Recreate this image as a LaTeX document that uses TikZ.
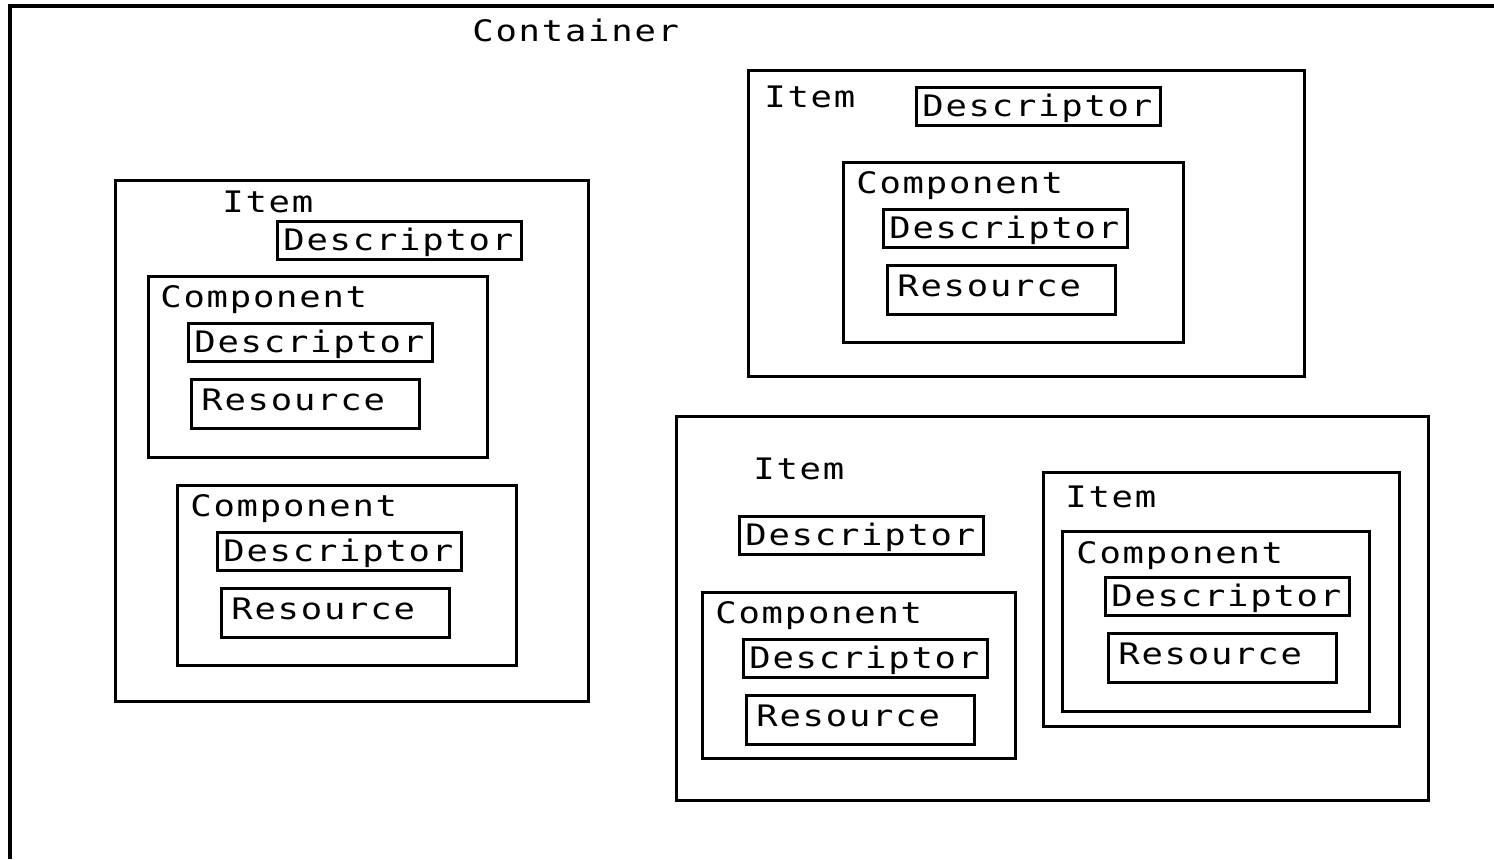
\documentclass[tikz,border=0pt]{standalone}
\usepackage{fontspec}
\usepackage{tikz}
\usetikzlibrary{positioning,fit}

\newfontfamily\pixfont{DejaVu Sans Mono}[FakeStretch=1.2, LetterSpace=6]
\newcommand{\boxfont}{\pixfont\fontsize{14.8pt}{18pt}\selectfont}

\begin{document}
\begin{tikzpicture}[x=0.5pt, y=-0.5pt,
    outline/.style={draw, rectangle, inner sep=0pt, line width=1.5pt},
    lbl/.style={font=\boxfont, anchor=base west, inner sep=0pt},
    part/.style={draw, rectangle, line width=1.4pt, font=\boxfont, anchor=north west, inner ysep=0pt, align=left},
    desc/.style={part, inner xsep=3pt, text width=116pt, text height=14.5pt, text depth=4.5pt},
    res/.style={part, inner xsep=5pt, text width=104pt, text height=15.5pt, text depth=9pt}]
    \useasboundingbox (0,0) rectangle (1494,859);

    % container, open to the right and below
    \draw[line width=2pt] (10,859) -- (10,6) -- (1494,6);
    \node[lbl] (cont) at (472,41) {Container};

    % left item
    \node[outline, fit={(115,180) (588,701)}] (itemA) {};
    \node[lbl] (itemAlbl) at (222,212) {Item};
    \node[desc] (itemAdesc) at (276,220) {Descriptor};

    \node[outline, fit={(148,276) (487,457)}] (compA1) {};
    \node[lbl] (compA1lbl) at (160,307) {Component};
    \node[desc] (compA1desc) at (187,322) {Descriptor};
    \node[res] (compA1res) at (190,378) {Resource};

    \node[outline, fit={(177,485) (516,665)}] (compA2) {};
    \node[lbl] (compA2lbl) at (190,516) {Component};
    \node[desc] (compA2desc) at (216,531) {Descriptor};
    \node[res] (compA2res) at (220,587) {Resource};

    % top right item
    \node[outline, fit={(748,70) (1304,376)}] (itemB) {};
    \node[lbl] (itemBlbl) at (764,107) {Item};
    \node[desc] (itemBdesc) at (915,86) {Descriptor};

    \node[outline, fit={(843,162) (1183,342)}] (compB1) {};
    \node[lbl] (compB1lbl) at (856,193) {Component};
    \node[desc] (compB1desc) at (882,208) {Descriptor};
    \node[res] (compB1res) at (886,264) {Resource};

    % bottom right item with a nested item
    \node[outline, fit={(676,416) (1428,800)}] (itemC) {};
    \node[lbl] (itemClbl) at (753,479) {Item};
    \node[desc] (itemCdesc) at (738,515) {Descriptor};

    \node[outline, fit={(702,592) (1015,758)}] (compC1) {};
    \node[lbl] (compC1lbl) at (715,623) {Component};
    \node[desc] (compC1desc) at (742,638) {Descriptor};
    \node[res] (compC1res) at (745,694) {Resource};

    \node[outline, fit={(1043,472) (1399,726)}] (itemD) {};
    \node[lbl] (itemDlbl) at (1065,507) {Item};

    \node[outline, fit={(1062,531) (1369,711)}] (compD1) {};
    \node[lbl] (compD1lbl) at (1076,563) {Component};
    \node[desc] (compD1desc) at (1104,576) {Descriptor};
    \node[res] (compD1res) at (1107,632) {Resource};
\end{tikzpicture}
\end{document}
